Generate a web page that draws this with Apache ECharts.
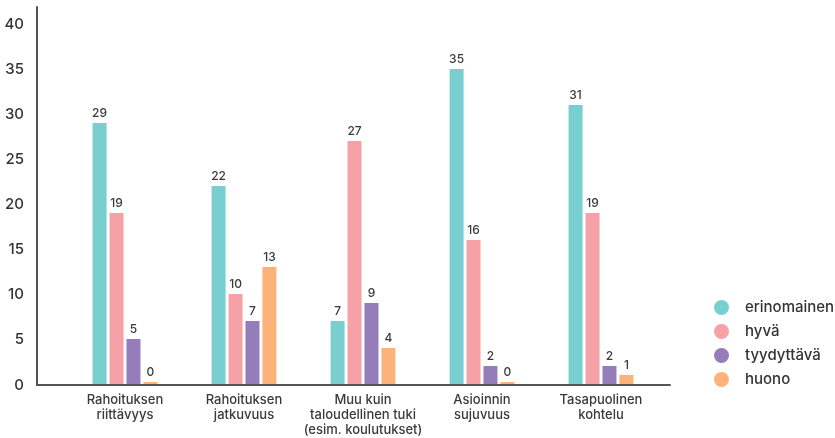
<!DOCTYPE html>
<html>
<head>
<meta charset="utf-8">
<script src="https://cdn.jsdelivr.net/npm/echarts@6/dist/echarts.min.js"></script>
<style>
  html, body { margin: 0; padding: 0; background: #fff; }
  #chart { width: 835px; height: 438px; }
</style>
</head>
<body>
<div id="chart"></div>
<script>
// Categories (x axis)
const categories = [
  'Rahoituksen\nriittävyys',
  'Rahoituksen\njatkuvuus',
  'Muu kuin\ntaloudellinen tuki\n(esim. koulutukset)',
  'Asioinnin\nsujuvuus',
  'Tasapuolinen\nkohtelu'
];

// Ratings per category
const erinomainen = [29, 22, 7, 35, 31];
const hyva = [19, 10, 27, 16, 19];
const tyydyttava = [5, 7, 9, 2, 2];
const huono = [0, 13, 4, 0, 1];

const seriesNames = ['erinomainen', 'hyvä', 'tyydyttävä', 'huono'];
const seriesColors = ['#79cfd0', '#f6a1a8', '#957dba', '#fdb27a'];
const seriesData = [erinomainen, hyva, tyydyttava, huono];

const FONT = 'Inter, "Noto Sans", sans-serif';
const Y_MAX = 41.9;

const chart = echarts.init(document.getElementById('chart'), null, { renderer: 'canvas' });

chart.setOption({
  animation: false,
  backgroundColor: '#ffffff',
  textStyle: { fontFamily: FONT },
  grid: [
    // frame grid: carries the axis lines and y labels
    { left: 37, right: 165, top: 7, bottom: 53 },
    // plot grid: carries the bars and category labels
    { left: 65.5, right: 174.5, top: 7, bottom: 53 }
  ],
  legend: {
    orient: 'vertical',
    left: 709,
    top: 295,
    icon: 'circle',
    itemWidth: 15,
    itemHeight: 15,
    itemGap: 9,
    data: seriesNames,
    textStyle: {
      fontFamily: FONT,
      fontSize: 15,
      fontWeight: 500,
      color: '#333',
      padding: [0, 0, 0, 11]
    }
  },
  xAxis: [
    {
      type: 'category',
      gridIndex: 0,
      data: [''],
      axisLine: { show: true, lineStyle: { color: '#555', width: 2 } },
      axisTick: { show: false },
      axisLabel: { show: false }
    },
    {
      type: 'category',
      gridIndex: 1,
      data: categories,
      axisLine: { show: false },
      axisTick: { show: false },
      axisLabel: {
        interval: 0,
        margin: 9,
        fontFamily: FONT,
        fontSize: 13,
        fontWeight: 500,
        lineHeight: 15,
        color: '#3a3a3a'
      }
    }
  ],
  yAxis: [
    {
      type: 'value',
      gridIndex: 0,
      min: 0,
      max: Y_MAX,
      interval: 5,
      axisLine: { show: true, lineStyle: { color: '#555', width: 2 } },
      axisTick: { show: false },
      splitLine: { show: false },
      axisLabel: {
        showMaxLabel: false,
        margin: 13,
        fontFamily: FONT,
        fontSize: 15,
        fontWeight: 500,
        color: '#333'
      }
    },
    {
      type: 'value',
      gridIndex: 1,
      min: 0,
      max: Y_MAX,
      show: false
    }
  ],
  series: seriesNames.map((name, i) => ({
    name: name,
    type: 'bar',
    xAxisIndex: 1,
    yAxisIndex: 1,
    data: seriesData[i],
    barWidth: 14,
    barGap: '21%',
    barMinHeight: 2,
    itemStyle: { color: seriesColors[i] },
    label: {
      show: true,
      position: 'top',
      distance: 4,
      fontFamily: FONT,
      fontSize: 12,
      fontWeight: 500,
      color: '#3a3a3a'
    }
  }))
});
</script>
</body>
</html>
